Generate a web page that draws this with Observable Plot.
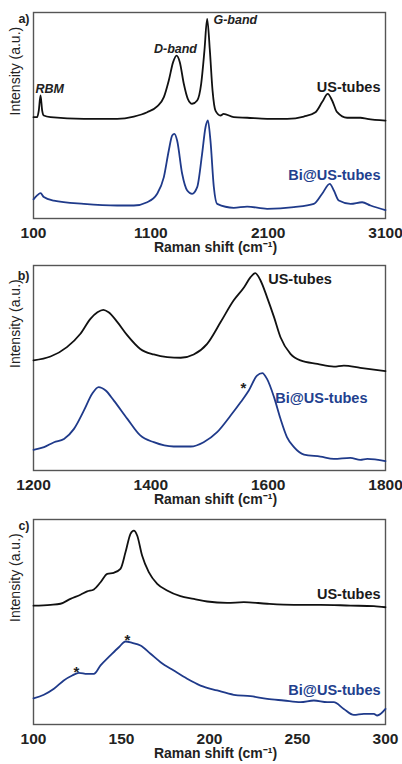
<!DOCTYPE html>
<html><head><meta charset="utf-8">
<script src="https://cdn.jsdelivr.net/npm/d3@7"></script>
<script src="https://cdn.jsdelivr.net/npm/@observablehq/plot@0.6"></script>
<style>body{margin:0;background:#fff} #chart svg{display:block}</style>
</head><body><div id="chart"></div>
<script>
// Panel a: full range (cm-1, intensity a.u.)
const usA = [[100,49.2],[131,49.2],[145,52.4],[160,59.7],[174,52.4],[188,50],[245,49.2],[529,48.4],[813,48.4],[955,49.5],[1069,51.6],[1154,54.4],[1211,58.9],[1253,67],[1290,75.9],[1319,79.1],[1347,75.9],[1381,65.4],[1415,58.1],[1452,55.7],[1495,57.3],[1529,65.4],[1557,81.6],[1580,96.9],[1603,81.6],[1626,62.1],[1651,52.4],[1694,50],[1720,50.8],[1807,49.2],[1921,48.9],[2091,48.4],[2262,48.4],[2404,49.5],[2503,51.6],[2560,56.5],[2608,60.5],[2645,57.3],[2688,51.6],[2773,48.9],[2887,48.9],[2944,48.4],[3100,47.5]];
const biA = [[100,9.3],[131,11.2],[160,12.3],[188,10.4],[273,8.7],[529,7.1],[813,6.3],[955,6.3],[1069,7.9],[1154,12],[1211,20.1],[1253,33],[1282,40.3],[1301,41.1],[1324,37.9],[1367,21.7],[1410,13.6],[1452,12],[1495,15.2],[1537,31.4],[1566,44.3],[1586,47.6],[1608,37.9],[1637,15.2],[1665,7.1],[1807,5.2],[1921,5.8],[2091,4.7],[2319,5.5],[2489,7.1],[2560,12],[2625,16.8],[2660,13.6],[2702,8.7],[2802,7.1],[2901,7.9],[2972,6.3],[3100,4.1]];
// Panel b: 1200-1800
const usB = [[1200,53.7],[1229,55.6],[1257,60.2],[1280,66.7],[1297,74],[1309,77.2],[1319,78.4],[1328,77.2],[1343,72.4],[1360,65.9],[1382,59.3],[1405,56.6],[1428,55.3],[1451,55],[1473,56.6],[1496,61.8],[1519,72.4],[1541,82.9],[1559,89.4],[1570,94.3],[1578,96.3],[1587,92.7],[1598,84.6],[1610,74.8],[1621,65],[1638,56.9],[1655,53.7],[1684,52],[1712,50.7],[1729,51.2],[1757,50.1],[1800,48.5]];
const biB = [[1200,10.1],[1218,11.4],[1235,13.8],[1252,15.4],[1269,20.3],[1286,29.3],[1300,37.4],[1311,40.7],[1323,39],[1337,34.1],[1360,25.2],[1382,17.1],[1405,13.8],[1439,11.7],[1468,11.7],[1490,13.8],[1513,18.7],[1536,26.8],[1553,33.3],[1567,39],[1581,46.3],[1590,47.5],[1598,44.7],[1610,35.8],[1621,25.2],[1632,16.3],[1644,11.4],[1661,7.8],[1689,6.8],[1712,5.7],[1740,6.2],[1757,5.2],[1769,5.7],[1800,4.6]];
// Panel c: 100-300
const usC = [[100,58],[109.7,58.4],[115.3,58.9],[121,61.3],[126.7,63.3],[130.5,64.9],[134.3,65.9],[138.1,69.4],[141.9,73.5],[145.6,74],[149.4,75.9],[152.3,84.1],[155.1,93],[157,94.6],[158.9,92.2],[161.7,82.4],[165.5,74.3],[170.3,68.6],[175.9,65.4],[183.5,62.6],[191.1,61.3],[198.7,60],[210,59.3],[219.5,59.7],[232.8,58.9],[247.9,58.4],[263.1,58.4],[280.1,58],[293.4,57.7],[300,57.2]];
const biC = [[100,12.8],[105.9,14.5],[111.6,17.4],[117.2,21.5],[122,23.9],[125.8,25.2],[130.5,24.7],[134.3,24.7],[138.1,28.8],[143.7,33.7],[148.5,37.7],[152.3,40.5],[156.1,39.8],[160.8,38.5],[166.5,34.5],[172.2,30.4],[179.7,26.3],[187.3,22.3],[194.9,19],[204.4,16.6],[213.8,14.5],[223.3,13.8],[232.8,12.5],[242.2,11.7],[251.7,10.9],[259.3,11.7],[266.9,10.9],[270.6,10.9],[276.3,7.6],[282,4.7],[287.7,5.2],[293.4,5.2],[295.3,4.4],[300,7.6]];
// tick labels
const ticksA = [100, 1100, 2100, 3100];
const ticksB = [1200, 1400, 1600, 1800];
const ticksC = [100, 150, 200, 250, 300];
// annotations (data units)
const labelsA = [
  {x: 3057, y: 63.6, text: "US-tubes", series: "us", anchor: "end"},
  {x: 3057, y: 20.9, text: "Bi@US-tubes", series: "bi", anchor: "end"}
];
const bandsA = [
  {x: 117, y: 63.1, text: "RBM", anchor: "start"},
  {x: 1310, y: 82.5, text: "D-band", anchor: "middle"},
  {x: 1634, y: 96.6, text: "G-band", anchor: "start"}
];
const labelsB = [
  {x: 1600, y: 93.2, text: "US-tubes", series: "us", anchor: "start"},
  {x: 1612, y: 35.1, text: "Bi@US-tubes", series: "bi", anchor: "start"}
];
const labelsC = [
  {x: 297.2, y: 63.4, text: "US-tubes", series: "us", anchor: "end"},
  {x: 297.2, y: 16.6, text: "Bi@US-tubes", series: "bi", anchor: "end"}
];
const starsB = [{x: 1558, y: 41.5}];
const starsC = [{x: 153.4, y: 42.4}, {x: 124.4, y: 26.8}];

const BLACK = "#111", BLUE = "#1f3a8a";
const FONT = "'Liberation Sans', Arial, Helvetica, sans-serif";
const toObj = a => a.map(([x, y]) => ({x, y}));

function panel({us, bi, domain, ticks, height, marginTop, marginBottom, labels, bands = [], stars = [], tag, tagDy}) {
  const marks = [
    Plot.frame({stroke: "#555", strokeWidth: 1.4}),
    Plot.line(toObj(us), {x: "x", y: "y", stroke: BLACK, strokeWidth: 1.8, curve: "monotone-x"}),
    Plot.line(toObj(bi), {x: "x", y: "y", stroke: BLUE, strokeWidth: 1.8, curve: "monotone-x"})
  ];
  for (const anchor of ["start", "middle", "end"]) {
    const L = labels.filter(d => d.anchor === anchor);
    if (L.length) marks.push(Plot.text(L, {x: "x", y: "y", text: "text", textAnchor: anchor, lineAnchor: "middle",
      fill: d => d.series === "bi" ? "#22408e" : "#1a1a1a", fontSize: 14.5, fontWeight: "bold"}));
    const B = bands.filter(d => d.anchor === anchor);
    if (B.length) marks.push(Plot.text(B, {x: "x", y: "y", text: "text", textAnchor: anchor, lineAnchor: "middle",
      fill: "#222", fontSize: 12.5, fontWeight: "bold", fontStyle: "italic"}));
  }
  if (stars.length) marks.push(Plot.text(stars, {x: "x", y: "y", text: () => "*", dy: 3, lineAnchor: "middle", fill: "#222", fontSize: 15, fontWeight: "bold"}));
  marks.push(
    Plot.text(["Intensity (a.u.)"], {frameAnchor: "left", dx: -18, rotate: -90, fontSize: 14, fontWeight: "normal", fill: "#222", lineAnchor: "middle"}),
    Plot.text(["Raman shift (cm\u207B\u00B9)"], {frameAnchor: "bottom", dx: 6, dy: 29, lineAnchor: "middle", fontSize: 14, fontWeight: "bold", fill: "#222"}),
    Plot.text([tag], {frameAnchor: "top-left", dx: -4, dy: tagDy, textAnchor: "end", lineAnchor: "middle", fontSize: 12.5, fontWeight: "bold", fill: "#222"})
  );
  return Plot.plot({
    width: 402, height, marginLeft: 33, marginRight: 17, marginTop, marginBottom,
    style: {fontFamily: FONT, fontSize: "15.5px", fontWeight: "bold", background: "#fff", color: "#222"},
    x: {domain, ticks, tickSize: 0, tickPadding: 8, tickFormat: d => String(d), label: null},
    y: {domain: [0, 100], axis: null},
    marks
  });
}

const root = document.getElementById("chart");
root.append(panel({us: usA, bi: biA, domain: [100, 3100], ticks: ticksA, height: 256, marginTop: 12, marginBottom: 38, labels: labelsA, bands: bandsA, tag: "a)", tagDy: 6}));
root.append(panel({us: usB, bi: biB, domain: [1200, 1800], ticks: ticksB, height: 252, marginTop: 9, marginBottom: 38, labels: labelsB, stars: starsB, tag: "b)", tagDy: 10}));
root.append(panel({us: usC, bi: biC, domain: [100, 300], ticks: ticksC, height: 256, marginTop: 11, marginBottom: 40, labels: labelsC, stars: starsC, tag: "c)", tagDy: 6}));
</script></body></html>
